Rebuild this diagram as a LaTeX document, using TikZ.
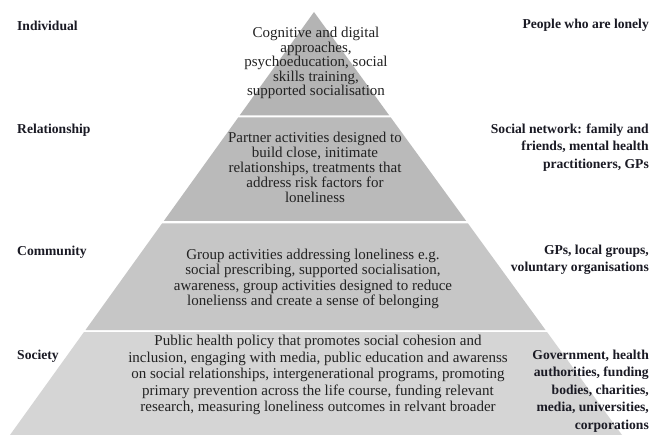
\documentclass[tikz,border=0pt]{standalone}
\usepackage{fontspec}
\setmainfont{Liberation Serif}
\begin{document}
\definecolor{tierA}{RGB}{180,180,180}
\definecolor{tierB}{RGB}{186,186,186}
\definecolor{tierC}{RGB}{198,198,198}
\definecolor{tierD}{RGB}{213,213,213}
\definecolor{bodyink}{RGB}{34,34,34}
\definecolor{labelink}{RGB}{26,26,36}
\begin{tikzpicture}[x=1pt,y=-1pt,
  body/.style={inner sep=0pt,align=center,text=bodyink},
  levellabel/.style={inner sep=0pt,anchor=west,text=labelink,
    font=\fontsize{13.6}{17.4}\selectfont\bfseries},
  actorlabel/.style={inner sep=0pt,anchor=east,align=right,text=labelink,
    font=\fontsize{13.6}{17.4}\selectfont\bfseries}]
\useasboundingbox (0,0) rectangle (650,435);
\fill[white] (0,0) rectangle (650,435);

% pyramid tiers, separated by thin white gaps
\fill[tierA] (314,12) -- (389.3,115.5) -- (239.6,115.5) -- cycle;
\fill[tierB] (238.2,117.5) -- (390.8,117.5) -- (466.2,221) -- (163.8,221) -- cycle;
\fill[tierC] (162.0,223.5) -- (468.0,223.5) -- (545.5,330) -- (85.5,330) -- cycle;
\fill[tierD] (84.0,332) -- (547.0,332) -- (622,435) -- (10,435) -- cycle;

% tier contents
\node[body,font=\fontsize{15}{14.6}\selectfont] (t1) at (316,63)
  {Cognitive and digital\\approaches,\\psychoeducation, social\\skills training,\\supported socialisation};
\node[body,font=\fontsize{15}{15}\selectfont] (t2) at (315,167)
  {Partner activities designed to\\build close, initimate\\relationships, treatments that\\address risk factors for\\loneliness};
\node[body,font=\fontsize{15}{15.3}\selectfont] (t3) at (313,279)
  {Group activities addressing loneliness e.g.\\social prescribing, supported socialisation,\\awareness, group activities designed to reduce\\lonelienss and create a sense of belonging};
\node[body,font=\fontsize{15}{16.5}\selectfont] (t4) at (318,375)
  {Public health policy that promotes social cohesion and\\inclusion, engaging with media, public education and awarenss\\on social relationships, intergenerational programs, promoting\\primary prevention across the life course, funding relevant\\research, measuring loneliness outcomes in relvant broader};

% level names
\node[levellabel] (l1) at (17,26) {Individual};
\node[levellabel] (l2) at (17,130) {Relationship};
\node[levellabel] (l3) at (17,252) {Community};
\node[levellabel] (l4) at (17,356) {Society};

% who is involved
\node[actorlabel] (r1) at (649,25) {People who are lonely};
\node[actorlabel] (r2) at (649,147.5) {Social network: family and\\friends, mental health\\practitioners, GPs};
\node[actorlabel] (r3) at (649,259.5) {GPs, local groups,\\voluntary organisations};
\node[actorlabel] (r4) at (649,391) {Government, health\\authorities, funding\\bodies, charities,\\media, universities,\\corporations};
\end{tikzpicture}
\end{document}
